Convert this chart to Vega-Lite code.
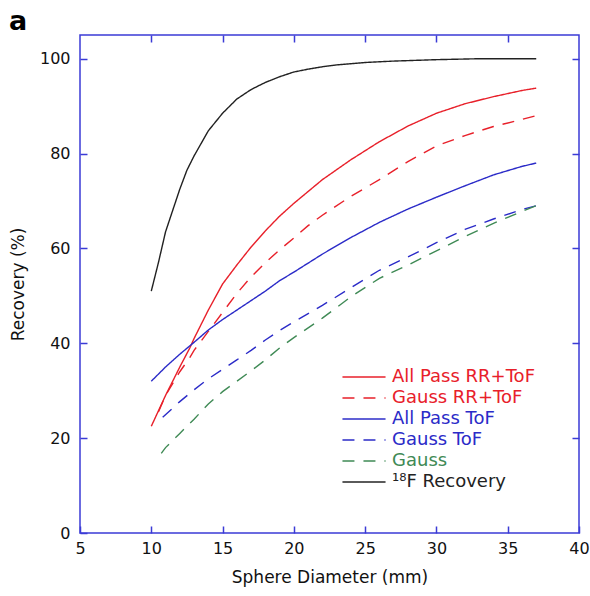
{
  "$schema": "https://vega.github.io/schema/vega-lite/v6.json",
  "width": 499,
  "height": 498,
  "autosize": "none",
  "padding": {"left": 80, "top": 35, "right": 11, "bottom": 63},
  "background": "white",
  "config": {
    "view": {"stroke": "#3b3bd6", "strokeWidth": 1.5},
    "axis": {
      "domain": false, "grid": false, "tickColor": "#3b3bd6", "tickWidth": 1.5, "tickSize": -7,
      "labelFont": "DejaVu Sans", "labelFontSize": 16, "labelColor": "#111",
      "titleFont": "DejaVu Sans", "titleFontSize": 17, "titleFontWeight": "normal", "titleColor": "#111"
    }
  },
  "title": {"text": "a", "anchor": "start", "frame": "group", "dx": -71, "dy": 29, "offset": 6, "baseline": "alphabetic", "font": "DejaVu Sans", "fontSize": 27, "fontWeight": "bold", "color": "#000"},
  "data": {"values": [
    {"s": "All Pass RR+ToF", "d": 10, "r": 22.5}, {"s": "All Pass RR+ToF", "d": 11, "r": 29}, {"s": "All Pass RR+ToF", "d": 12, "r": 35}, {"s": "All Pass RR+ToF", "d": 12.7, "r": 39}, {"s": "All Pass RR+ToF", "d": 13, "r": 41}, {"s": "All Pass RR+ToF", "d": 14, "r": 47}, {"s": "All Pass RR+ToF", "d": 15, "r": 52.5}, {"s": "All Pass RR+ToF", "d": 16, "r": 56.5}, {"s": "All Pass RR+ToF", "d": 17, "r": 60.3}, {"s": "All Pass RR+ToF", "d": 18, "r": 63.7}, {"s": "All Pass RR+ToF", "d": 19, "r": 66.8}, {"s": "All Pass RR+ToF", "d": 20, "r": 69.5}, {"s": "All Pass RR+ToF", "d": 22, "r": 74.5}, {"s": "All Pass RR+ToF", "d": 24, "r": 78.7}, {"s": "All Pass RR+ToF", "d": 26, "r": 82.5}, {"s": "All Pass RR+ToF", "d": 28, "r": 85.8}, {"s": "All Pass RR+ToF", "d": 30, "r": 88.5}, {"s": "All Pass RR+ToF", "d": 32, "r": 90.5}, {"s": "All Pass RR+ToF", "d": 34, "r": 92}, {"s": "All Pass RR+ToF", "d": 36, "r": 93.3}, {"s": "All Pass RR+ToF", "d": 37, "r": 93.8},
    {"s": "Gauss RR+ToF", "d": 10.5, "r": 25.5}, {"s": "Gauss RR+ToF", "d": 11, "r": 29}, {"s": "Gauss RR+ToF", "d": 12, "r": 34}, {"s": "Gauss RR+ToF", "d": 12.7, "r": 37}, {"s": "Gauss RR+ToF", "d": 13, "r": 38.5}, {"s": "Gauss RR+ToF", "d": 14, "r": 42.5}, {"s": "Gauss RR+ToF", "d": 15, "r": 46.5}, {"s": "Gauss RR+ToF", "d": 16, "r": 50.5}, {"s": "Gauss RR+ToF", "d": 17, "r": 54}, {"s": "Gauss RR+ToF", "d": 18, "r": 57}, {"s": "Gauss RR+ToF", "d": 19, "r": 59.7}, {"s": "Gauss RR+ToF", "d": 20, "r": 62.2}, {"s": "Gauss RR+ToF", "d": 21, "r": 64.8}, {"s": "Gauss RR+ToF", "d": 22, "r": 67}, {"s": "Gauss RR+ToF", "d": 24, "r": 71}, {"s": "Gauss RR+ToF", "d": 26, "r": 74.5}, {"s": "Gauss RR+ToF", "d": 28, "r": 78.3}, {"s": "Gauss RR+ToF", "d": 30, "r": 81.6}, {"s": "Gauss RR+ToF", "d": 32, "r": 83.8}, {"s": "Gauss RR+ToF", "d": 34, "r": 85.7}, {"s": "Gauss RR+ToF", "d": 36, "r": 87.2}, {"s": "Gauss RR+ToF", "d": 37, "r": 88},
    {"s": "All Pass ToF", "d": 10, "r": 32}, {"s": "All Pass ToF", "d": 11, "r": 35}, {"s": "All Pass ToF", "d": 12, "r": 37.7}, {"s": "All Pass ToF", "d": 13, "r": 40.2}, {"s": "All Pass ToF", "d": 14, "r": 42.8}, {"s": "All Pass ToF", "d": 15, "r": 45}, {"s": "All Pass ToF", "d": 16, "r": 47}, {"s": "All Pass ToF", "d": 17, "r": 49}, {"s": "All Pass ToF", "d": 18, "r": 51}, {"s": "All Pass ToF", "d": 19, "r": 53.2}, {"s": "All Pass ToF", "d": 20, "r": 55}, {"s": "All Pass ToF", "d": 22, "r": 58.8}, {"s": "All Pass ToF", "d": 24, "r": 62.3}, {"s": "All Pass ToF", "d": 26, "r": 65.5}, {"s": "All Pass ToF", "d": 28, "r": 68.3}, {"s": "All Pass ToF", "d": 30, "r": 70.8}, {"s": "All Pass ToF", "d": 32, "r": 73.2}, {"s": "All Pass ToF", "d": 34, "r": 75.5}, {"s": "All Pass ToF", "d": 36, "r": 77.3}, {"s": "All Pass ToF", "d": 37, "r": 78},
    {"s": "Gauss ToF", "d": 10.8, "r": 24.4}, {"s": "Gauss ToF", "d": 12, "r": 27.7}, {"s": "Gauss ToF", "d": 13, "r": 30.2}, {"s": "Gauss ToF", "d": 14, "r": 32.5}, {"s": "Gauss ToF", "d": 15, "r": 34.5}, {"s": "Gauss ToF", "d": 16, "r": 36.5}, {"s": "Gauss ToF", "d": 17, "r": 38.5}, {"s": "Gauss ToF", "d": 18, "r": 40.7}, {"s": "Gauss ToF", "d": 19, "r": 42.7}, {"s": "Gauss ToF", "d": 20, "r": 44.5}, {"s": "Gauss ToF", "d": 22, "r": 48}, {"s": "Gauss ToF", "d": 24, "r": 51.7}, {"s": "Gauss ToF", "d": 26, "r": 55.4}, {"s": "Gauss ToF", "d": 28, "r": 58.2}, {"s": "Gauss ToF", "d": 30, "r": 61.2}, {"s": "Gauss ToF", "d": 32, "r": 64}, {"s": "Gauss ToF", "d": 34, "r": 66.2}, {"s": "Gauss ToF", "d": 36, "r": 68.2}, {"s": "Gauss ToF", "d": 37, "r": 69},
    {"s": "Gauss", "d": 10.7, "r": 16.8}, {"s": "Gauss", "d": 11, "r": 18}, {"s": "Gauss", "d": 12, "r": 21}, {"s": "Gauss", "d": 13, "r": 24}, {"s": "Gauss", "d": 14, "r": 27.2}, {"s": "Gauss", "d": 15, "r": 29.8}, {"s": "Gauss", "d": 16, "r": 32}, {"s": "Gauss", "d": 17, "r": 34.2}, {"s": "Gauss", "d": 18, "r": 36.5}, {"s": "Gauss", "d": 19, "r": 39}, {"s": "Gauss", "d": 20, "r": 41.2}, {"s": "Gauss", "d": 22, "r": 45.3}, {"s": "Gauss", "d": 24, "r": 49.8}, {"s": "Gauss", "d": 26, "r": 53.7}, {"s": "Gauss", "d": 28, "r": 56.5}, {"s": "Gauss", "d": 30, "r": 59.5}, {"s": "Gauss", "d": 32, "r": 62.5}, {"s": "Gauss", "d": 34, "r": 65.3}, {"s": "Gauss", "d": 36, "r": 67.8}, {"s": "Gauss", "d": 37, "r": 69},
    {"s": "¹⁸F Recovery", "d": 10, "r": 51}, {"s": "¹⁸F Recovery", "d": 10.5, "r": 57}, {"s": "¹⁸F Recovery", "d": 11, "r": 63.5}, {"s": "¹⁸F Recovery", "d": 11.5, "r": 68}, {"s": "¹⁸F Recovery", "d": 12, "r": 72.5}, {"s": "¹⁸F Recovery", "d": 12.5, "r": 76.5}, {"s": "¹⁸F Recovery", "d": 13, "r": 79.5}, {"s": "¹⁸F Recovery", "d": 14, "r": 84.8}, {"s": "¹⁸F Recovery", "d": 15, "r": 88.5}, {"s": "¹⁸F Recovery", "d": 16, "r": 91.5}, {"s": "¹⁸F Recovery", "d": 17, "r": 93.5}, {"s": "¹⁸F Recovery", "d": 18, "r": 95}, {"s": "¹⁸F Recovery", "d": 19, "r": 96.2}, {"s": "¹⁸F Recovery", "d": 20, "r": 97.2}, {"s": "¹⁸F Recovery", "d": 21, "r": 97.8}, {"s": "¹⁸F Recovery", "d": 22, "r": 98.3}, {"s": "¹⁸F Recovery", "d": 23, "r": 98.7}, {"s": "¹⁸F Recovery", "d": 25, "r": 99.2}, {"s": "¹⁸F Recovery", "d": 27, "r": 99.5}, {"s": "¹⁸F Recovery", "d": 30, "r": 99.8}, {"s": "¹⁸F Recovery", "d": 33, "r": 100}, {"s": "¹⁸F Recovery", "d": 37, "r": 100}
  ]},
  "resolve": {"axis": {"x": "independent", "y": "independent"}},
  "layer": [
    {
      "mark": {"type": "line", "strokeWidth": 1.4},
      "encoding": {
        "x": {"field": "d", "type": "quantitative", "scale": {"domain": [5, 40], "nice": false, "zero": false},
              "axis": {"orient": "bottom", "title": "Sphere Diameter (mm)", "values": [5, 10, 15, 20, 25, 30, 35, 40], "labelPadding": 14, "labelFlush": false, "titlePadding": 13}},
        "y": {"field": "r", "type": "quantitative", "scale": {"domain": [0, 105], "nice": false},
              "axis": {"orient": "left", "title": "Recovery (%)", "values": [0, 20, 40, 60, 80, 100], "labelPadding": 17, "labelFlush": false, "titlePadding": 12}},
        "color": {"field": "s", "type": "nominal",
                  "scale": {"domain": ["All Pass RR+ToF", "Gauss RR+ToF", "All Pass ToF", "Gauss ToF", "Gauss", "¹⁸F Recovery"],
                            "range": ["#e8202a", "#e8202a", "#2b2bc8", "#2b2bc8", "#3f8a55", "#222222"]},
                  "legend": {"orient": "none", "legendX": 275, "legendY": 333, "title": null, "symbolType": "M-4,0L4,0", "symbolSize": 116, "symbolStrokeWidth": 1.5,
                             "labelFont": "DejaVu Sans", "labelFontSize": 18, "labelOffset": 19, "rowPadding": 3, "padding": 0, "labelLimit": 300,
                             "encode": {"labels": {"update": {"fill": {"scale": "color", "field": "value"}}}}}},
        "strokeDash": {"field": "s", "type": "nominal",
                       "scale": {"domain": ["All Pass RR+ToF", "Gauss RR+ToF", "All Pass ToF", "Gauss ToF", "Gauss", "¹⁸F Recovery"],
                                 "range": [[1, 0], [12, 9], [1, 0], [12, 9], [12, 9], [1, 0]]},
                       "legend": {"orient": "none", "legendX": 275, "legendY": 333, "title": null, "symbolType": "M-4,0L4,0", "symbolSize": 116, "symbolStrokeWidth": 1.5,
                             "labelFont": "DejaVu Sans", "labelFontSize": 18, "labelOffset": 19, "rowPadding": 3, "padding": 0, "labelLimit": 300}}
      }
    },
    {
      "mark": {"type": "line", "opacity": 0},
      "encoding": {
        "x": {"field": "d", "type": "quantitative", "axis": {"orient": "top", "title": null, "labels": false, "values": [10, 15, 20, 25, 30, 35]}},
        "y": {"field": "r", "type": "quantitative", "axis": {"orient": "right", "title": null, "labels": false, "values": [20, 40, 60, 80, 100]}},
        "detail": {"field": "s"}
      }
    }
  ]
}
